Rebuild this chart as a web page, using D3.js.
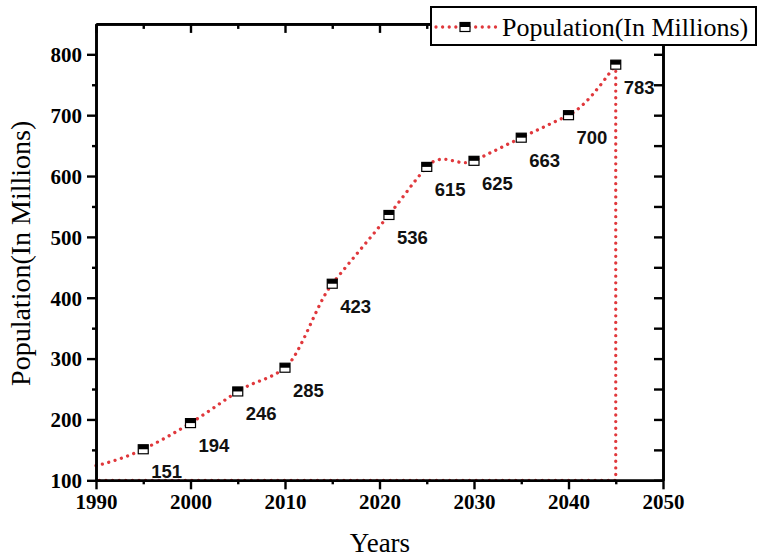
<!DOCTYPE html>
<html><head><meta charset="utf-8">
<script src="https://cdn.jsdelivr.net/npm/d3@7"></script>
<style>body{margin:0;background:#fff}svg{display:block}</style>
</head><body>
<svg id="c" width="760" height="559"></svg>
<script>
const years = [1995, 2000, 2005, 2010, 2015, 2021, 2025, 2030, 2035, 2040, 2045];
const values = [151, 194, 246, 285, 423, 536, 615, 625, 663, 700, 783];
const labels = ["151","194","246","285","423","536","615","625","663","700","783"];
const curveStart = {year: 1990, value: 124};
const baseValue = 100;
const xTicks = [1990, 2000, 2010, 2020, 2030, 2040, 2050];
const xMinor = [1995, 2005, 2015, 2025, 2035, 2045];
const yTicks = [100, 200, 300, 400, 500, 600, 700, 800];
const yMinor = [150, 250, 350, 450, 550, 650, 750];
const seriesName = "Population(In Millions)";
const xTitle = "Years";
const yTitle = "Population(In Millions)";

const svg = d3.select("#c");
const x = d3.scaleLinear().domain([1990, 2050]).range([96, 663]);
const y = d3.scaleLinear().domain([100, 850]).range([480.3, 23.9]);
const red = "#e0383c";
const serif = "'Liberation Serif','Times New Roman',serif";
const sans = "'Liberation Sans',Arial,sans-serif";

// Akima-style spline path through scaled points
function akimaPath(P){
  const n = P.length, m = [];
  for (let i=0;i<n-1;i++) m.push((P[i+1][1]-P[i][1])/(P[i+1][0]-P[i][0]));
  const mm = [0,0].concat(m).concat([0,0]);
  mm[1] = 2*mm[2]-mm[3]; mm[0] = 2*mm[1]-mm[2];
  mm[n+1] = 2*mm[n]-mm[n-1]; mm[n+2] = 2*mm[n+1]-mm[n];
  const t = [];
  for (let i=0;i<n;i++){
    const w1 = Math.abs(mm[i+3]-mm[i+2]), w2 = Math.abs(mm[i+1]-mm[i]);
    t.push(w1+w2 < 1e-9 ? (mm[i+1]+mm[i+2])/2 : (w1*mm[i+1]+w2*mm[i+2])/(w1+w2));
  }
  const p = d3.path();
  p.moveTo(P[0][0], P[0][1]);
  for (let i=0;i<n-1;i++){
    const h = (P[i+1][0]-P[i][0])/3;
    p.bezierCurveTo(P[i][0]+h, P[i][1]+t[i]*h, P[i+1][0]-h, P[i+1][1]-t[i+1]*h, P[i+1][0], P[i+1][1]);
  }
  return p.toString();
}

// series line
const pts = [[curveStart.year, curveStart.value]].concat(years.map((d,i)=>[d, values[i]]))
  .map(d=>[x(d[0]), y(d[1])]);
const dotted = sel => sel.attr("fill","none").attr("stroke",red).attr("stroke-width",3.3)
  .attr("stroke-linecap","round").attr("stroke-dasharray","0.01 6.6");
svg.append("path").attr("d", akimaPath(pts)).call(dotted);
const last = years.length-1;
const closing = [[years[last], values[last]], [years[last], baseValue], [curveStart.year, baseValue]];
svg.append("path").datum(closing).attr("d", d3.line().x(d=>x(d[0])).y(d=>y(d[1]))).call(dotted);

// axes
function styleAxis(g){
  g.selectAll("path.domain").attr("stroke","#000").attr("stroke-width",2.6);
  g.selectAll(".tick line").attr("stroke","#000").attr("stroke-width",2.4);
  g.selectAll(".tick text").attr("font-family",serif).attr("font-weight","bold").attr("font-size",21).attr("fill","#000");
}
const gB = svg.append("g").attr("transform",`translate(0,${y(100)})`)
  .call(d3.axisBottom(x).tickValues(xTicks).tickFormat(d3.format("d")).tickSize(9).tickSizeOuter(0).tickPadding(5));
styleAxis(gB);
const gBm = svg.append("g").attr("transform",`translate(0,${y(100)})`)
  .call(d3.axisBottom(x).tickValues(xMinor).tickFormat("").tickSize(4).tickSizeOuter(0));
styleAxis(gBm);
const gL = svg.append("g").attr("transform",`translate(${x(1990)},0)`)
  .call(d3.axisLeft(y).tickValues(yTicks).tickFormat(d3.format("d")).tickSize(9).tickSizeOuter(0).tickPadding(5));
styleAxis(gL);
gL.selectAll(".tick text").attr("dy","0.35em");
const gLm = svg.append("g").attr("transform",`translate(${x(1990)},0)`)
  .call(d3.axisLeft(y).tickValues(yMinor).tickFormat("").tickSize(4).tickSizeOuter(0));
styleAxis(gLm);
const gT = svg.append("g").attr("transform",`translate(0,${y(850)})`)
  .call(d3.axisTop(x).tickValues(xTicks).tickFormat("").tickSize(-9).tickSizeOuter(0));
styleAxis(gT);
const gTm = svg.append("g").attr("transform",`translate(0,${y(850)})`)
  .call(d3.axisTop(x).tickValues(xMinor).tickFormat("").tickSize(-5).tickSizeOuter(0));
styleAxis(gTm);
const gR = svg.append("g").attr("transform",`translate(${x(2050)},0)`)
  .call(d3.axisRight(y).tickValues(yTicks).tickFormat("").tickSize(-9).tickSizeOuter(0));
styleAxis(gR);
const gRm = svg.append("g").attr("transform",`translate(${x(2050)},0)`)
  .call(d3.axisRight(y).tickValues(yMinor).tickFormat("").tickSize(-9).tickSizeOuter(0));
styleAxis(gRm);

// markers
function marker(g, cx, cy){
  g.append("rect").attr("x",cx-5).attr("y",cy-4.5).attr("width",10).attr("height",9)
    .attr("fill","#fff").attr("stroke","#000").attr("stroke-width",1.2);
  g.append("rect").attr("x",cx-5).attr("y",cy-4.5).attr("width",10).attr("height",4.5).attr("fill","#000");
}
const mg = svg.append("g");
years.forEach((d,i)=>marker(mg, x(d), y(values[i])));

// value labels
svg.append("g").selectAll("text").data(years).join("text")
  .attr("x",(d)=>x(d)+8).attr("y",(d,i)=>y(values[i])+29)
  .attr("font-family",sans).attr("font-weight","bold").attr("font-size",18.5).attr("fill","#111")
  .text((d,i)=>labels[i]);

// titles
svg.append("text").attr("x",380).attr("y",552).attr("text-anchor","middle")
  .attr("font-family",serif).attr("font-size",27).text(xTitle);
svg.append("text").attr("transform",`translate(30,${y(473)}) rotate(-90)`).attr("text-anchor","middle")
  .attr("font-family",serif).attr("font-size",28).text(yTitle);

// legend
const lg = svg.append("g");
lg.append("rect").attr("x",431).attr("y",7).attr("width",325).attr("height",38)
  .attr("fill","#fff").attr("stroke","#000").attr("stroke-width",2);
lg.append("path").attr("d",`M436,27H497`).call(dotted);
marker(lg, 465, 27);
lg.append("text").attr("x",502).attr("y",36).attr("font-family",serif).attr("font-size",26).text(seriesName);
</script>
</body></html>
